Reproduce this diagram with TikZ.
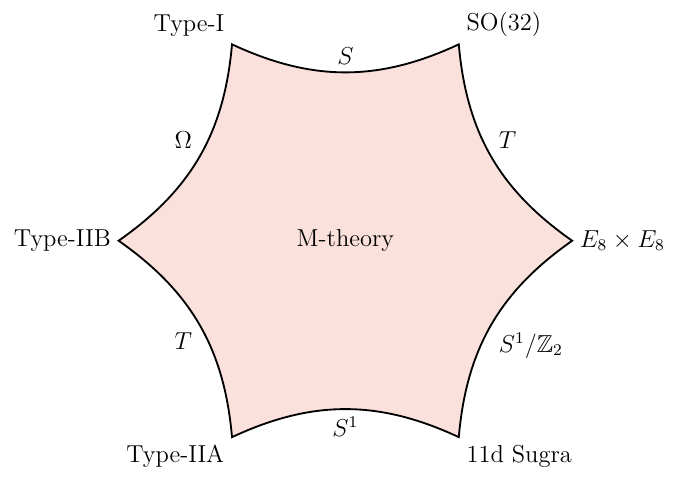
\documentclass[tikz,border=0pt]{standalone}
\usepackage{amsmath}
\usepackage{amssymb}
\definecolor{mfill}{RGB}{250,225,219}

\begin{document}
\begin{tikzpicture}[line width=0.9pt,
  vlab/.style={font=\large},
  elab/.style={font=\large,auto}]
\useasboundingbox (-5.94,-4.05) rectangle (5.72,4.14);
% ---------- corners of the hexagon ----------
\coordinate (I)   at (120:3.9);
\coordinate (SO)  at (60:3.9);
\coordinate (EE)  at (0:3.9);
\coordinate (Su)  at (-60:3.9);
\coordinate (IIA) at (-120:3.9);
\coordinate (IIB) at (180:3.9);
% ---------- filled region, edges bent inwards ----------
\draw[fill=mfill] (I) to[bend right=25] node[elab] {$S$} (SO)
  to[bend right=25] node[elab] {$T$} (EE)
  to[bend right=25] node[elab] {$S^1/\mathbb{Z}_2$} (Su)
  to[bend right=25] node[elab] {$S^1$} (IIA)
  to[bend right=25] node[elab] {$T$} (IIB)
  to[bend right=25] node[elab] {$\Omega$} (I) -- cycle;
\node[vlab] (M) at (0,0) {M-theory};
% ---------- corner labels ----------
\node[vlab,above left]  (tI)   at (I)   {Type-I};
\node[vlab,above right] (tSO)  at (SO)  {SO(32)};
\node[vlab,right]       (tEE)  at (EE)  {$E_8\times E_8$};
\node[vlab,below right] (tSu)  at (Su)  {11d Sugra};
\node[vlab,below left]  (tIIA) at (IIA) {Type-IIA};
\node[vlab,left]        (tIIB) at (IIB) {Type-IIB};
\end{tikzpicture}
\end{document}
